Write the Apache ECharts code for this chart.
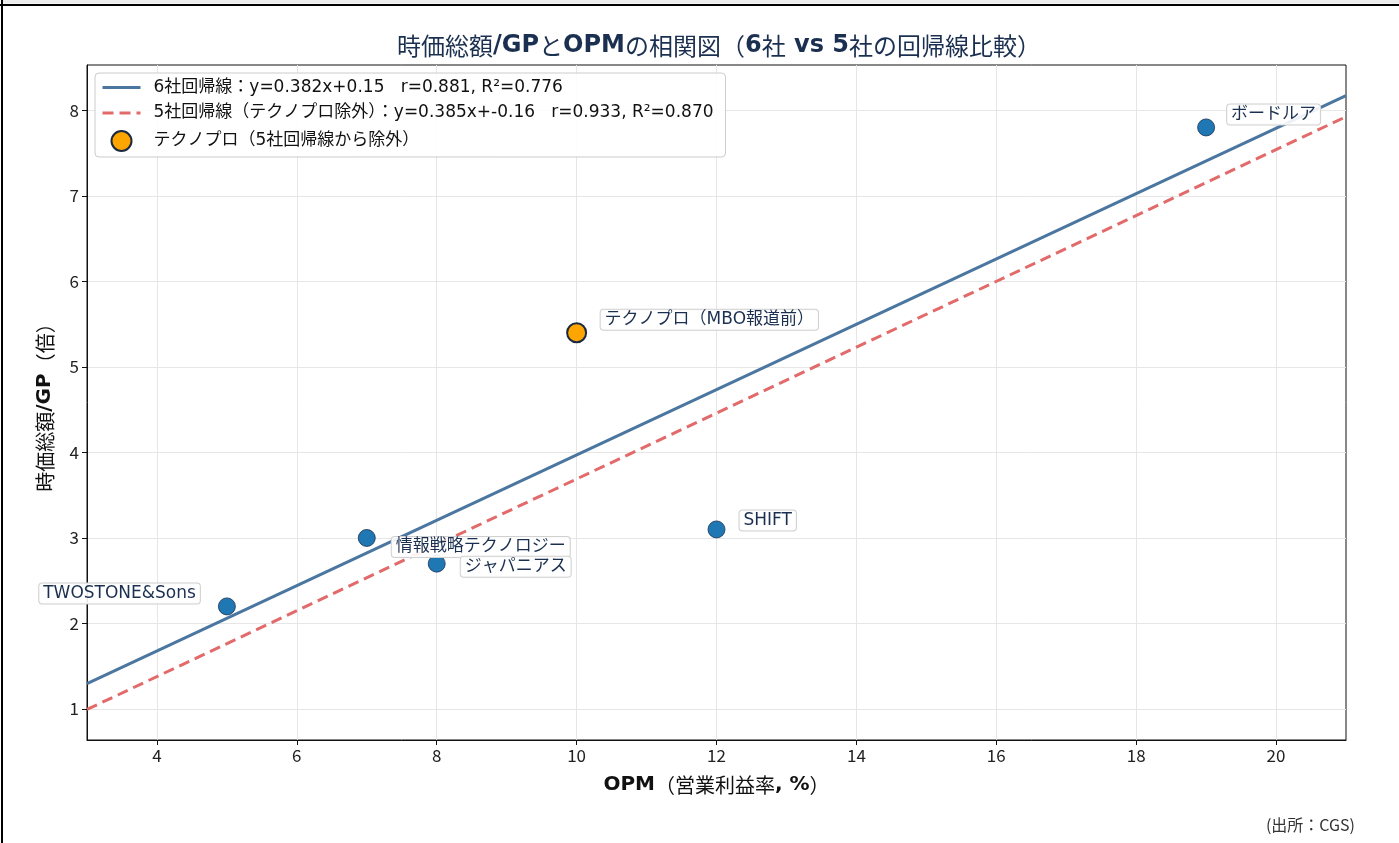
<!DOCTYPE html>
<html>
<head>
<meta charset="utf-8">
<script src="https://cdn.jsdelivr.net/npm/echarts@6/dist/echarts.min.js"></script>
<style>
html, body { margin: 0; padding: 0; background: #fff; }
#main { width: 1399px; height: 843px; }
</style>
</head>
<body>
<div id="main"></div>
<script>
// 各社データ（OPM %, 時価総額/GP 倍）
var companies = ['TWOSTONE&Sons', '情報戦略テクノロジー', 'ジャパニアス', 'テクノプロ（MBO報道前）', 'SHIFT', 'ボードルア'];
var opm = [5, 7, 8, 10, 12, 19];
var mcapGp = [2.2, 3.0, 2.7, 5.4, 3.1, 7.8];
var excludedIndex = 3;

// 回帰線の両端
var lineX = [3, 21];
var line6Y = [1.296, 8.172];
var line5Y = [0.995, 7.925];

var xTicks = [4, 6, 8, 10, 12, 14, 16, 18, 20];
var yTicks = [1, 2, 3, 4, 5, 6, 7, 8];

var name6 = '6社回帰線：y=0.382x+0.15   r=0.881, R²=0.776';
var name5 = '5社回帰線（テクノプロ除外）：y=0.385x+-0.16   r=0.933, R²=0.870';
var nameEx = 'テクノプロ（5社回帰線から除外）';

var labelOffsets = [[-27, -13, 'right'], [25, 9, 'left'], [24, 3, 'left'], [24, -13, 'left'], [23, -9, 'left'], [21, -13, 'left']];

var FONT = "'DejaVu Sans', 'Noto Sans CJK JP', sans-serif";
var CJK = "'Noto Sans CJK JP', 'DejaVu Sans', sans-serif";
var NAVY = '#1b3050';
var BLUE_LINE = '#4a76a0';
var RED_LINE = '#e26a6a';

var chart = echarts.init(document.getElementById('main'));

var pts = [], ptEx = [];
for (var i = 0; i < opm.length; i++) {
	var item = {
		value: [opm[i], mcapGp[i]],
		name: companies[i],
		label: {
			offset: [labelOffsets[i][0], labelOffsets[i][1]],
			align: labelOffsets[i][2]
		}
	};
	if (i == excludedIndex) {
		ptEx.push(item);
	} else {
		pts.push(item);
	}
}

var pointLabel = {
	show: true,
	position: 'inside',
	verticalAlign: 'middle',
	formatter: '{b}',
	color: NAVY,
	fontSize: 17,
	fontFamily: FONT,
	backgroundColor: 'rgba(255,255,255,0.9)',
	borderColor: '#d0d0d0',
	borderWidth: 1,
	borderRadius: 3,
	padding: [2, 4, 1, 4]
};

var option = {
	animation: false,
	backgroundColor: '#fff',
	title: {
		text: '時価総額{b|/GP}と{b|OPM}の相関図（{b|6}社{b| vs 5}社の回帰線比較）',
		left: 714,
		textAlign: 'center',
		top: 29,
		textStyle: {
			fontSize: 24,
			fontWeight: 'normal',
			color: NAVY,
			fontFamily: CJK,
			rich: {
				b: { fontSize: 24, fontWeight: 'bold', color: NAVY, fontFamily: FONT }
			}
		}
	},
	legend: {
		orient: 'vertical',
		left: 95,
		top: 73,
		padding: [6, 12, 5, 6],
		itemWidth: 38,
		itemHeight: 20,
		itemGap: 8.5,
		backgroundColor: 'rgba(255,255,255,0.85)',
		borderColor: '#cccccc',
		borderWidth: 1,
		borderRadius: 4,
		textStyle: { fontSize: 17, color: '#111', fontFamily: FONT, padding: [0, 0, 0, 8] },
		data: [
			{ name: name6, itemStyle: { opacity: 0 }, lineStyle: { color: BLUE_LINE, width: 3 } },
			{ name: name5, itemStyle: { opacity: 0 }, lineStyle: { color: RED_LINE, width: 3, type: [11, 6] } },
			{ name: nameEx, icon: 'circle' }
		]
	},
	grid: {
		left: 87,
		right: 53,
		top: 65,
		bottom: 103,
		show: true,
		borderColor: '#111',
		borderWidth: 1
	},
	xAxis: {
		type: 'value',
		min: 3,
		max: 21,
		name: '{b|OPM}（営業利益率{b|, %}）',
		nameLocation: 'middle',
		nameGap: 35,
		nameTextStyle: {
			fontSize: 20,
			color: '#111',
			fontFamily: CJK,
			rich: { b: { fontSize: 20, fontWeight: 'bold', color: '#111', fontFamily: FONT } }
		},
		axisLine: { show: true, onZero: false, lineStyle: { color: '#111' } },
		axisTick: { show: true, length: 5, customValues: xTicks, lineStyle: { color: '#111' } },
		axisLabel: { customValues: xTicks, fontSize: 17, color: '#222', fontFamily: CJK, margin: 7 },
		splitLine: { show: true, lineStyle: { color: '#e6e6e6' } }
	},
	yAxis: {
		type: 'value',
		min: 0.638,
		max: 8.53,
		name: '時価総額{b|/GP}（倍）',
		nameLocation: 'middle',
		nameRotate: 90,
		nameGap: 32,
		nameTextStyle: {
			fontSize: 20,
			color: '#111',
			fontFamily: CJK,
			rich: { b: { fontSize: 20, fontWeight: 'bold', color: '#111', fontFamily: FONT } }
		},
		axisLine: { show: true, onZero: false, lineStyle: { color: '#111' } },
		axisTick: { show: true, length: 5, customValues: yTicks, lineStyle: { color: '#111' } },
		axisLabel: { customValues: yTicks, fontSize: 17, color: '#222', fontFamily: CJK, margin: 8 },
		splitLine: { show: true, lineStyle: { color: '#e6e6e6' } }
	},
	series: [
		{
			name: name6,
			type: 'line',
			symbol: 'none',
			z: 2,
			data: [[lineX[0], line6Y[0]], [lineX[1], line6Y[1]]],
			lineStyle: { color: BLUE_LINE, width: 3 },
			itemStyle: { color: BLUE_LINE }
		},
		{
			name: name5,
			type: 'line',
			symbol: 'none',
			z: 2,
			data: [[lineX[0], line5Y[0]], [lineX[1], line5Y[1]]],
			lineStyle: { color: RED_LINE, width: 3, type: [11, 6] },
			itemStyle: { color: RED_LINE }
		},
		{
			name: '各社',
			type: 'scatter',
			symbolSize: 17,
			z: 3,
			itemStyle: { color: '#1f77b4', borderColor: '#1b3050', borderWidth: 0.8, opacity: 1 },
			label: pointLabel,
			data: pts
		},
		{
			name: nameEx,
			type: 'scatter',
			symbolSize: 19,
			z: 4,
			itemStyle: { color: '#ffa500', borderColor: '#1b2a40', borderWidth: 2, opacity: 1 },
			label: pointLabel,
			data: ptEx
		}
	],
	graphic: [
		{ type: 'rect', left: 3, top: 0, shape: { width: 1396, height: 3.5 }, style: { fill: '#ececec' }, silent: true },
		{ type: 'rect', left: 0, top: 4, shape: { width: 1399, height: 2 }, style: { fill: '#000' }, silent: true },
		{ type: 'rect', left: 1, top: 0, shape: { width: 2, height: 843 }, style: { fill: '#000' }, silent: true },
		{
			type: 'text',
			right: 44,
			top: 817,
			style: { text: '(出所：CGS)', fontSize: 16, fill: '#333', fontFamily: CJK }
		}
	]
};

chart.setOption(option);
</script>
</body>
</html>
